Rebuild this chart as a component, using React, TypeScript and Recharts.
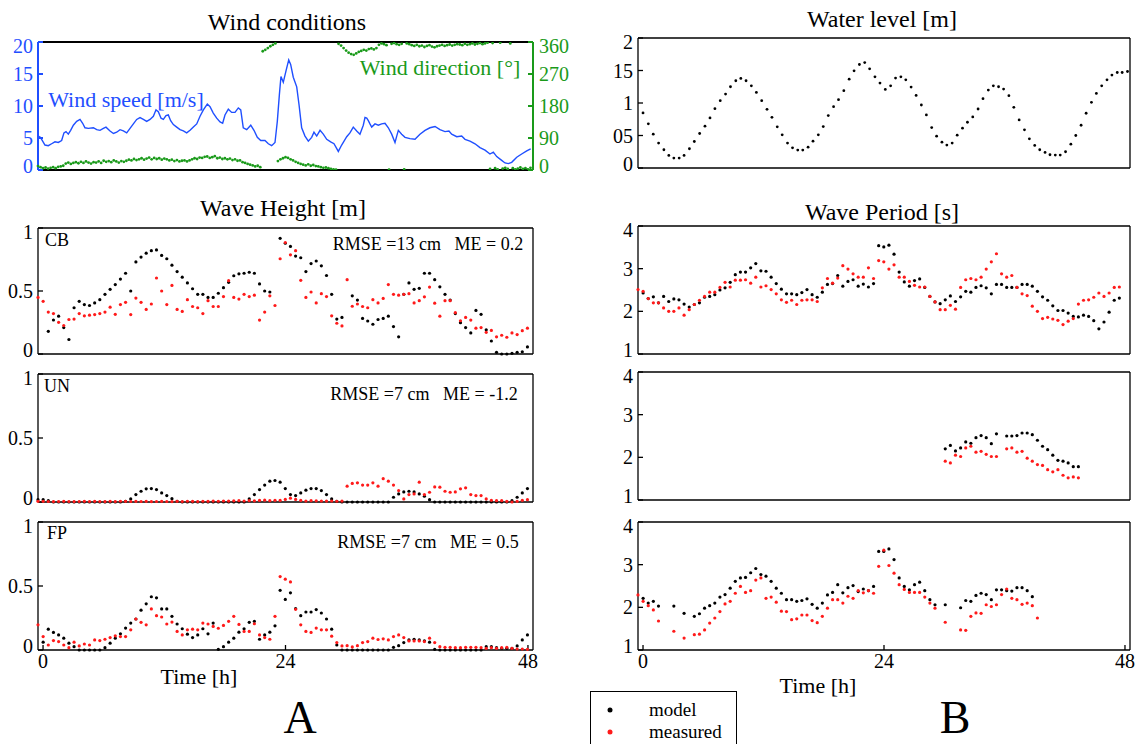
import React from 'react';
import { ComposedChart, Scatter, Line, XAxis, YAxis } from 'recharts';

const FONT = '"Liberation Serif", "Times New Roman", serif';
const RED = '#ff1a1a';
const BLUE = '#1f4fff';
const GREEN = '#1a9a1a';

// wave records: one sample every ~0.5 h starting at -0.5 h
const waveHours = Array.from({ length: 96 }, (_, i) => -0.5 + i * 0.51);
// wind direction record: one sample every 15 min
const windDirHours = Array.from({ length: 196 }, (_, i) => -0.5 + i * 0.25);
const gap = (n: number) => Array(n).fill(null);

const windSpeedHours = [
  -0.37, -0.14, 0.19, 0.52, 0.85, 1.18, 1.51, 1.84, 2.07, 2.27,
  2.5, 2.73, 3.0, 3.33, 3.66, 3.92, 4.15, 4.48, 4.98, 5.31,
  5.64, 5.97, 6.23, 6.63, 6.97, 7.29, 7.62, 7.95, 8.28, 8.61,
  8.94, 9.27, 9.6, 9.93, 10.26, 10.59, 10.92, 11.18, 11.41, 11.68,
  11.91, 12.17, 12.4, 12.63, 12.9, 13.23, 13.56, 13.89, 14.22, 14.55,
  14.88, 15.21, 15.54, 15.87, 16.26, 16.53, 16.85, 17.19, 17.52, 17.78,
  18.01, 18.34, 18.67, 19.0, 19.33, 19.57, 19.82, 20.16, 20.56, 20.88,
  21.21, 21.55, 21.97, 22.3, 22.63, 22.96, 23.19, 23.39, 23.55, 23.78,
  24.05, 24.32, 24.51, 24.77, 25.11, 25.34, 25.6, 25.93, 26.26, 26.59,
  26.82, 27.09, 27.42, 27.74, 28.08, 28.47, 28.8, 29.23, 29.56, 30.06,
  30.38, 30.71, 31.05, 31.37, 31.7, 31.87, 32.04, 32.2, 32.36, 32.53,
  32.86, 33.19, 33.52, 33.85, 34.18, 34.51, 34.84, 35.01, 35.17, 35.5,
  35.83, 36.32, 36.82, 37.31, 37.81, 38.3, 38.8, 39.29, 39.79, 40.18,
  40.45, 40.95, 41.44, 41.77, 42.26, 42.76, 43.25, 43.75, 44.24, 44.57,
  44.91, 45.4, 45.73, 46.06, 46.39, 46.89, 47.38, 47.88, 48.27,
];
const windSpeed = [
  5.3, 4.8, 3.9, 3.8, 4.1, 4.4, 4.3, 4.6, 5.8, 6.0,
  5.6, 6.2, 7.0, 7.6, 7.9, 7.3, 6.6, 6.5, 6.6, 6.3,
  6.2, 6.5, 6.7, 6.1, 5.7, 5.9, 6.3, 6.1, 5.8, 6.5,
  7.2, 7.9, 8.2, 7.9, 7.6, 7.9, 8.4, 9.4, 9.1, 8.1,
  7.9, 8.5, 8.6, 7.7, 7.1, 6.7, 6.3, 6.1, 5.8, 6.2,
  6.7, 7.2, 8.4, 9.4, 10.3, 9.9, 8.9, 8.1, 7.5, 7.3,
  8.6, 9.5, 9.0, 9.0, 9.7, 9.4, 6.6, 6.3, 7.0, 6.2,
  5.1, 4.6, 4.6, 4.1, 3.8, 4.3, 7.6, 11.7, 14.6, 13.7,
  15.5, 17.2, 16.5, 14.5, 13.0, 10.2, 6.6, 5.3, 4.5, 5.1,
  5.9, 5.3, 6.2, 5.6, 4.8, 4.4, 4.1, 2.9, 3.9, 5.2,
  5.8, 6.7, 6.1, 5.6, 7.0, 8.2, 8.1, 7.7, 7.2, 6.7,
  7.2, 7.0, 7.2, 7.3, 6.6, 5.6, 4.3, 5.3, 6.2, 5.6,
  5.1, 4.9, 4.8, 5.6, 6.2, 6.6, 6.8, 6.3, 6.0, 6.1,
  5.6, 5.2, 5.3, 4.8, 4.5, 4.1, 3.5, 3.1, 2.5, 2.8,
  2.1, 1.5, 1.1, 1.0, 1.2, 2.0, 2.5, 3.0, 3.3,
];
const windDir = [
  11, 8, 5, 7, 4,
  6, 8, 5, 9, 10, 12,
  18, 21, 17, 20,
  22, 19, 23, 20, 24, 21, 18, 22,
  21, 24, 20, 26, 23, 25, 22, 27, 24, 21, 25, 23,
  26, 29, 27, 31, 28, 30, 33, 29,
  32, 35, 30, 34, 31, 33, 29, 32,
  30, 27, 29, 25, 28, 24, 26, 27,
  24, 27, 30, 33, 31, 35, 34, 37,
  38, 34, 36, 39, 33, 35, 31, 33,
  30, 32, 28, 30, 26, 27, 22, 20,
  17, 15, 13, 10, 12, 8,
  334, 338, 343, 348, 352, 356,
  25, 30, 33, 36, 34, 30, 27, 23, 20, 17,
  15, 13, 16, 12, 14, 11, 10, 8,
  6, 7, 5, 3, 2, 1,
  355, 350, 343, 336, 330, 326, 324, 328,
  332, 335, 338, 336, 340, 342, 339, 343, 352, 356, 354, 351, 1, 355, 357, 354, 352, 355, 2, 356,
  354, 351, 349, 352, 348, 350, 346, 349, 351, 347, 345, 348, 350, 352, 349, 351, 353, 350, 352, 354,
  353, 351, 355, 352, 354, 356, 353, 355, 357, 354, 356, 358,
  3, 357, 5, 2, 358, 4, 6, 3, 356, 5, 2, 4, 7, 3, 5, 2, 6,
];

const waterHours = [
  0, 0.53, 1.02, 1.55, 2.08, 2.57, 3.07, 3.6, 4.09, 4.62, 5.11, 5.64, 6.17, 6.67, 7.16, 7.69, 8.22, 8.71, 9.24,
  9.74, 10.26, 10.79, 11.29, 11.82, 12.35, 12.84, 13.37, 13.86, 14.39, 14.89, 15.41, 15.91, 16.44, 16.93, 17.46,
  17.95, 18.45, 18.98, 19.47, 20.0, 20.53, 21.02, 21.55, 22.08, 22.57, 23.1, 23.6, 24.13, 24.66, 25.15, 25.68,
  26.17, 26.7, 27.2, 27.72, 28.22, 28.75, 29.24, 29.77, 30.26, 30.79, 31.29, 31.82, 32.31, 32.84, 33.37, 33.86,
  34.39, 34.89, 35.41, 35.91, 36.44, 36.93, 37.46, 37.99, 38.48, 39.01, 39.51, 40.04, 40.53, 41.06, 41.55,
  42.08, 42.61, 43.1, 43.63, 44.13, 44.66, 45.15, 45.68, 46.21, 46.7, 47.23, 47.72, 48.25,
];
const waterLevel = [
  0.847, 0.679, 0.52, 0.383, 0.281, 0.194, 0.153, 0.153, 0.194, 0.296, 0.408, 0.531, 0.643, 0.77, 0.913, 1.036,
  1.138, 1.25, 1.342, 1.378, 1.342, 1.265, 1.163, 1.036, 0.903, 0.78, 0.633, 0.51, 0.383, 0.311, 0.276, 0.276,
  0.321, 0.413, 0.51, 0.638, 0.806, 0.944, 1.051, 1.189, 1.367, 1.495, 1.592, 1.622, 1.526, 1.403, 1.306, 1.209,
  1.265, 1.383, 1.403, 1.357, 1.245, 1.117, 0.969, 0.816, 0.622, 0.49, 0.398, 0.352, 0.383, 0.505, 0.612, 0.704,
  0.786, 0.908, 1.066, 1.199, 1.265, 1.25, 1.214, 1.112, 0.934, 0.74, 0.587, 0.449, 0.347, 0.281, 0.24, 0.204,
  0.199, 0.199, 0.25, 0.367, 0.5, 0.658, 0.842, 1.01, 1.148, 1.265, 1.357, 1.429, 1.469, 1.469, 1.485,
];

// wave height [m]
const cbModel = [
  null, null, 0.18, 0.27, 0.3, 0.21, 0.115, 0.367, 0.418, 0.392,
  0.385, 0.405, 0.431, 0.474, 0.513, 0.551, 0.595, 0.641, 0.5, 0.731,
  0.769, 0.8, 0.82, 0.826, 0.782, 0.756, 0.705, 0.654, 0.61, 0.564,
  0.518, 0.474, 0.474, 0.449, 0.449, 0.482, 0.526, 0.569, 0.621, 0.636,
  0.641, 0.649, 0.641, 0.556, 0.5, 0.492, null, 0.918, 0.879, 0.854,
  0.777, 0.764, 0.654, 0.718, 0.738, 0.7, 0.623, 0.474, 0.277, 0.29,
  null, 0.462, 0.428, 0.282, 0.262, 0.236, 0.274, 0.282, 0.3, 0.218,
  0.136, 0.474, 0.564, 0.513, 0.521, 0.641, 0.641, 0.59, 0.533, 0.474,
  0.428, 0.321, 0.249, 0.21, 0.167, 0.346, 0.315, 0.192, 0.103, 0.013,
  0, 0, 0.005, 0.013, 0.018, 0.056,
];
const cbMeasured = [
  0.449, 0.418, 0.333, 0.321, 0.251, 0.226, 0.274, 0.277, 0.321, 0.303,
  0.308, 0.313, 0.321, 0.333, 0.372, 0.315, 0.392, 0.41, 0.313, 0.444,
  0.41, 0.354, 0.397, 0.603, 0.5, 0.392, 0.544, 0.354, 0.338, 0.431,
  0.377, 0.367, 0.321, 0.423, 0.377, 0.377, 0.456, 0.582, 0.449, 0.436,
  0.474, 0.456, 0.467, 0.269, 0.333, 0.462, 0.385, 0.756, 0.885, 0.787,
  0.82, 0.585, 0.449, 0.492, 0.405, 0.479, 0.456, 0.303, 0.244, 0.223,
  0.59, 0.379, 0.397, 0.377, 0.367, 0.431, 0.405, 0.441, 0.551, 0.474,
  0.467, 0.474, 0.479, 0.405, 0.423, 0.454, 0.531, 0.403, 0.3, 0.423,
  0.423, 0.328, 0.264, 0.29, 0.269, 0.205, 0.21, 0.172, 0.187, 0.136,
  0.149, 0.133, 0.167, 0.154, 0.185, 0.205,
];
const unModel = [
  0.018, 0.018, 0.01, 0, 0, 0, 0, 0, 0, 0,
  0, 0, 0, 0, 0, 0, 0, 0.005, 0.024, 0.058,
  0.084, 0.103, 0.105, 0.097, 0.071, 0.05, 0.026, 0.005, 0, 0,
  0, 0, 0, 0, 0, 0, 0, 0, 0, 0,
  0, 0.024, 0.058, 0.097, 0.132, 0.163, 0.168, 0.155, 0.105, 0.058,
  0.05, 0.071, 0.092, 0.105, 0.105, 0.089, 0.058, 0.024, 0.005, 0,
  0, 0, 0, 0, 0, 0, 0, 0, 0, 0.037,
  0.063, 0.079, 0.084, 0.079, 0.063, 0.045, 0.018, 0, 0, 0,
  0, 0, 0, 0, 0, 0, 0, 0, 0, 0,
  0, 0, 0.01, 0.037, 0.071, 0.105,
];
const unMeasured = [
  0.005, 0.005, 0.004, 0.003, 0.004, 0.005, 0.004, 0.003, 0.004, 0.005,
  0.004, 0.005, 0.004, 0.003, 0.005, 0.004, 0.006, 0.005, 0.004, 0.005,
  0.004, 0.005, 0.003, 0.004, 0.005, 0.004, 0.003, 0.005, 0.004, 0.006,
  0.005, 0.004, 0.006, 0.005, 0.007, 0.006, 0.008, 0.007, 0.009, 0.01,
  0.008, 0.01, 0.009, 0.012, 0.014, 0.01, 0.013, 0.012, 0.02, 0.03,
  0.02, 0.012, 0.008, 0.01, 0.009, 0.008, 0.007, 0.008, 0.006, 0.007,
  0.124, 0.145, 0.15, 0.132, 0.132, 0.15, 0.124, 0.182, 0.163, 0.132,
  0.089, 0.024, 0.058, 0.063, 0.155, 0.058, 0.076, 0.118, 0.116, 0.084,
  0.076, 0.079, 0.103, 0.111, 0.058, 0.05, 0.05, 0.024, 0.013, 0.01,
  0.01, 0.005, 0, 0.005, 0.013, 0.018,
];
const fpModel = [
  null, 0.061, 0.163, 0.137, 0.118, 0.092, 0.053, 0.026, 0, 0,
  0, 0, 0, 0.018, 0.053, 0.092, 0.126, 0.171, 0.21, 0.242,
  0.311, 0.361, 0.416, 0.408, 0.321, 0.321, 0.263, 0.203, 0.166, 0.124,
  0.097, 0.118, 0.166, 0.126, 0.21, 0.005, 0.026, 0.061, 0.092, 0.139,
  0.166, 0.216, 0.224, 0.084, 0.118, 0.139, 0.189, 0.466, 0.395, 0.447,
  0.324, 0.268, 0.297, 0.297, 0.316, 0.289, 0.242, 0.163, 0.039, 0,
  0, 0, 0, 0, 0, 0, 0, 0, 0, 0.021,
  0.034, 0.058, 0.079, 0.084, 0.079, 0.071, 0.061, 0.005, 0, 0,
  0, 0, 0, 0, 0, 0, 0, 0.026, 0.026, 0.018,
  0.013, 0.013, 0.013, 0.032, 0.079, 0.118,
];
const fpMeasured = [
  0.197, 0.105, 0.039, 0.074, 0.066, 0.039, 0.018, 0.061, 0.032, 0.047,
  0.039, 0.079, 0.074, 0.084, 0.097, 0.111, 0.105, 0.105, 0.158, 0.242,
  0.216, 0.197, 0.321, 0.268, 0.258, 0.203, 0.218, 0.145, 0.118, 0.158,
  0.163, 0.158, 0.21, 0.203, 0.184, 0.17, 0.192, 0.224, 0.263, 0.2,
  0.145, 0.145, 0.205, 0.118, 0.097, 0.084, 0.263, 0.574, 0.553, 0.532,
  0.318, 0.197, 0.145, 0.137, 0.171, 0.158, 0.158, 0.108, 0.058, 0.032,
  0.034, 0.024, 0.034, 0.058, 0.066, 0.092, 0.082, 0.087, 0.079, 0.105,
  0.118, 0.097, 0.071, 0.071, 0.071, 0.066, 0.092, 0.058, 0.026, 0.021,
  0.021, 0.018, 0.018, 0.021, 0.021, 0.021, 0.018, 0.013, 0.018, 0.013,
  0.018, 0.021, 0.013, 0.008, 0.008, 0.005,
];

// wave period [s]
const wp1Model = [
  null, 2.43, 2.3, 2.34, 2.2, 2.35, 2.23, 2.29, 2.27, 2.17,
  2.1, 2.16, 2.2, 2.33, 2.35, 2.39, 2.5, 2.55, 2.68, 2.86,
  2.92, 2.92, 3.02, 3.12, 2.95, 2.94, 2.8, 2.65, 2.52, 2.41,
  2.41, 2.39, 2.44, 2.51, 2.39, 2.33, 2.45, 2.63, 2.65, 2.84,
  2.59, 2.7, 2.74, 2.59, 2.64, 2.57, 2.65, 3.54, 3.51, 3.55,
  3.34, 2.92, 2.69, 2.59, 2.72, 2.76, 2.56, 2.35, 2.22, 2.18,
  2.27, 2.36, 2.23, 2.34, 2.47, 2.45, 2.56, 2.6, 2.55, 2.41,
  2.63, 2.63, 2.56, 2.56, 2.56, 2.63, 2.63, 2.59, 2.47, 2.34,
  2.26, 2.13, 2.02, 2.02, 1.96, 1.88, 1.87, 1.91, 1.88, 1.78,
  1.59, 1.75, 1.98, 2.26, 2.31, null,
];
const wp1Measured = [
  2.51, 2.47, 2.3, 2.2, 2.2, 2.08, 2.0, 2.0, 2.08, 1.91,
  2.04, 2.16, 2.26, 2.35, 2.45, 2.45, 2.56, 2.68, 2.57, 2.73,
  2.73, 2.74, 2.66, 2.8, 2.57, 2.6, 2.51, 2.41, 2.27, 2.21,
  2.26, 2.16, 2.26, 2.27, 2.27, 2.23, 2.55, 2.77, 2.66, 2.78,
  3.07, 2.99, 2.88, 2.8, 2.8, 3.02, 2.77, 3.19, 3.16, 2.99,
  3.09, 2.8, 2.8, 2.7, 2.61, 2.57, 2.57, 2.35, 2.22, 2.04,
  2.04, 2.14, 2.05, 2.56, 2.74, 2.77, 2.74, 2.8, 2.99, 3.16,
  3.35, 2.88, 2.8, 2.84, 2.56, 2.41, 2.37, 2.12, 2.0, 1.83,
  1.86, 1.82, 1.79, 1.69, 1.77, 1.83, 2.17, 2.26, 2.27, 2.33,
  2.43, 2.35, 2.43, 2.56, 2.57, null,
];
const wp2Model = [
  ...gap(60),
  2.2, 2.28, 2.15, 2.22, 2.36, 2.33, 2.46, 2.51, 2.46, 2.32,
  2.55, null, 2.5, 2.5, 2.51, 2.57, 2.57, 2.53, 2.4, 2.26,
  2.18, 2.05, 1.93, 1.91, 1.87, 1.78, 1.78,
];
const wp2Measured = [
  ...gap(60),
  1.91, 1.87, 2.05, 2.02, 2.22, 2.26, 2.12, 2.14, 2.07, 2.02,
  2.02, null, 2.2, 2.22, 2.12, 2.14, 1.98, 1.91, 1.83, 1.81,
  1.71, 1.66, 1.71, 1.58, 1.52, 1.54, 1.52,
];
const wp3Model = [
  null, 2.21, 2.1, 2.14, 2.03, null, null, 2.03, null, 1.86,
  null, 1.79, 1.85, 1.98, 2.04, 2.1, 2.24, 2.3, 2.45, 2.61,
  2.69, 2.7, 2.81, 2.91, 2.77, 2.73, 2.61, 2.45, 2.33, 2.18,
  2.18, 2.14, 2.16, 2.2, 2.07, 1.98, 2.1, 2.29, 2.35, 2.53,
  2.34, 2.46, 2.51, 2.37, 2.43, 2.39, 2.49, 3.31, 3.31, 3.37,
  3.12, 2.69, 2.49, 2.41, 2.53, 2.59, 2.39, 2.18, 2.06, null,
  2.06, null, null, 1.99, 2.16, 2.14, 2.28, 2.33, 2.3, 2.18,
  2.41, 2.41, 2.39, 2.38, 2.46, 2.46, 2.39, 2.25,
];
const wp3Measured = [
  2.29, 2.14, 2.04, 1.94, 1.68, null, null, 1.44, null, 1.28,
  null, 1.36, 1.37, 1.47, 1.63, 1.75, 1.9, 2.08, 2.14, 2.33,
  2.49, 2.35, 2.39, 2.64, 2.69, 2.21, 2.24, 2.12, 1.91, 1.9,
  1.71, 1.73, 1.82, 1.82, 1.69, 1.64, 1.79, 1.98, 2.18, 2.18,
  2.1, 2.26, 2.21, 2.39, 2.34, 2.39, 2.33, 2.96, 3.34, 2.98,
  2.8, 2.53, 2.42, 2.35, 2.35, 2.35, 2.24, 2.1, 1.98, null,
  1.65, null, null, 1.47, 1.46, 1.79, 1.87, 1.86, 2.06, 2.02,
  2.06, 2.3, 2.43, 2.21, 2.18, 2.07, 2.1, 2.04, 1.75,
];

const xTicks = [0, 24, 48];
const heightTicks = [0, 0.5, 1];
const periodTicks = [1, 2, 3, 4];
const waterTicks = [0, 0.5, 1, 1.5, 2];
const waterTickText: Record<string, string> = { '0': '0', '0.5': '05', '1': '1', '1.5': '15', '2': '2' };
const speedTicks = [0, 5, 10, 15, 20];
const dirTicks = [0, 90, 180, 270, 360];

type Pt = { t: number; v: number };
const toPts = (vals: (number | null)[], hours: number[] = waveHours): Pt[] =>
  vals.flatMap((v, i) => (v == null || hours[i] == null ? [] : [{ t: hours[i], v }]));

const dot = (color: string, r: number) => (props: any) =>
  <circle cx={props.cx} cy={props.cy} r={r} fill={color} />;

const tickStyle = { fontFamily: FONT, fontSize: 20 };

// serif tick labels; the end labels sit a little inside the frame, as in the original
const yTick = (color: string, domain: [number, number], fmt?: (v: number) => string) => (props: any) => {
  const v = props.payload.value;
  const shift = v === domain[1] ? 4 : v === domain[0] ? -4 : 0;
  return (
    <text x={props.x} y={props.y + shift} dy="0.35em" textAnchor={props.textAnchor}
      fill={color} style={tickStyle}>{fmt ? fmt(v) : String(v)}</text>
  );
};
const xTick = (props: any) => (
  <text x={props.x} y={props.y} dy="0.75em" textAnchor="middle" fill="#000"
    style={tickStyle}>{String(props.payload.value)}</text>
);

interface DotSeries { pts: Pt[]; color: string; r?: number; axis?: 'l' | 'r' }
interface PanelProps {
  x: number; y: number; w: number; h: number;
  yDomain: [number, number]; yTicks: number[]; yFmt?: (v: number) => string;
  dots: DotSeries[];
  line?: { pts: Pt[]; color: string };
  xLabels?: boolean;
  leftColor?: string; rightColor?: string;
  rightDomain?: [number, number]; rightTicks?: number[];
  axisW?: number; bottomW?: number;
}

function Panel(p: PanelProps) {
  const padL = 50;
  const padR = p.rightTicks ? 50 : 14;
  const padT = 14;
  const padB = p.xLabels ? 34 : 14;
  const lc = p.leftColor ?? '#000';
  const rc = p.rightColor ?? '#000';
  const aw = p.axisW ?? 1.3;
  const rDomain = p.rightDomain ?? p.yDomain;
  return (
    <div style={{ position: 'absolute', left: p.x - padL, top: p.y - padT }}>
      <ComposedChart width={padL + p.w + padR} height={padT + p.h + padB}
        margin={{ top: 0, right: 0, bottom: 0, left: 0 }} style={{ fontFamily: FONT }}>
        <XAxis xAxisId="b" type="number" dataKey="t" domain={[-0.5, 48.5]} ticks={xTicks}
          height={padB} stroke="#000" strokeWidth={p.bottomW ?? aw} tickSize={-5} tickMargin={8}
          tick={p.xLabels ? xTick : false} />
        <XAxis xAxisId="t" orientation="top" type="number" dataKey="t" domain={[-0.5, 48.5]}
          ticks={xTicks} allowDataOverflow height={padT} stroke="#000" strokeWidth={aw}
          tickSize={-5} tick={false} />
        <YAxis yAxisId="l" type="number" domain={p.yDomain} ticks={p.yTicks} width={padL}
          stroke={lc} strokeWidth={aw} tickSize={-5} tickMargin={10} interval={0}
          tick={yTick(lc, p.yDomain, p.yFmt)} />
        <YAxis yAxisId="r" orientation="right" type="number" domain={rDomain}
          ticks={p.rightTicks ?? p.yTicks} allowDataOverflow width={padR} stroke={rc} strokeWidth={aw}
          tickSize={-5} tickMargin={11} interval={0}
          tick={p.rightTicks ? yTick(rc, rDomain) : false} />
        {p.line && (
          <Line xAxisId="b" yAxisId="l" data={p.line.pts} dataKey="v" type="linear" dot={false}
            stroke={p.line.color} strokeWidth={1.4} isAnimationActive={false} />
        )}
        {p.dots.map((s, k) => (
          <Scatter key={k} xAxisId="b" yAxisId={s.axis ?? 'l'} data={s.pts} dataKey="v"
            shape={dot(s.color, s.r ?? 1.6)} isAnimationActive={false} />
        ))}
      </ComposedChart>
    </div>
  );
}

function Txt({ cx, cy, size, color = '#000', children }:
  { cx: number; cy: number; size: number; color?: string; children: React.ReactNode }) {
  return (
    <div style={{
      position: 'absolute', left: cx, top: cy, transform: 'translate(-50%, -50%)',
      fontSize: size, lineHeight: 1, whiteSpace: 'pre', color,
    }}>{children}</div>
  );
}

const LX = 38, LW = 495, RX = 638, RW = 492;

export default function App() {
  const windSpeedPts = windSpeedHours.map((t, i) => ({ t, v: windSpeed[i] }));
  const windDirPts = toPts(windDir, windDirHours);
  const waterPts = toPts(waterLevel, waterHours);
  return (
    <div style={{
      position: 'absolute', left: 0, top: 0, width: 1135, height: 744, background: '#fff',
      overflow: 'hidden', fontFamily: FONT, color: '#000',
    }}>
      <Panel x={LX} y={42} w={LW} h={128} yDomain={[0, 20]} yTicks={speedTicks}
        leftColor={BLUE} rightColor={GREEN} rightDomain={[0, 360]} rightTicks={dirTicks}
        axisW={2} bottomW={2}
        line={{ pts: windSpeedPts, color: BLUE }}
        dots={[{ pts: windDirPts, color: GREEN, r: 1.4, axis: 'r' }]} />
      <Panel x={LX} y={228} w={LW} h={126} yDomain={[0, 1]} yTicks={heightTicks}
        dots={[{ pts: toPts(cbModel), color: '#000' }, { pts: toPts(cbMeasured), color: RED }]} />
      <Panel x={LX} y={374} w={LW} h={128} yDomain={[0, 1]} yTicks={heightTicks}
        dots={[{ pts: toPts(unModel), color: '#000' }, { pts: toPts(unMeasured), color: RED }]} />
      <Panel x={LX} y={522} w={LW} h={128} yDomain={[0, 1]} yTicks={heightTicks} xLabels
        dots={[{ pts: toPts(fpModel), color: '#000' }, { pts: toPts(fpMeasured), color: RED }]} />

      <Panel x={RX} y={38} w={RW} h={130} yDomain={[0, 2]} yTicks={waterTicks}
        yFmt={(v) => waterTickText[String(v)] ?? String(v)}
        dots={[{ pts: waterPts, color: '#000', r: 1.4 }]} />
      <Panel x={RX} y={226} w={RW} h={128} yDomain={[1, 4]} yTicks={periodTicks}
        dots={[{ pts: toPts(wp1Model), color: '#000' }, { pts: toPts(wp1Measured), color: RED }]} />
      <Panel x={RX} y={372} w={RW} h={128} yDomain={[1, 4]} yTicks={periodTicks}
        dots={[{ pts: toPts(wp2Model), color: '#000' }, { pts: toPts(wp2Measured), color: RED }]} />
      <Panel x={RX} y={522} w={RW} h={128} yDomain={[1, 4]} yTicks={periodTicks} xLabels
        dots={[{ pts: toPts(wp3Model), color: '#000' }, { pts: toPts(wp3Measured), color: RED }]} />

      <Txt cx={287} cy={22} size={24}>Wind conditions</Txt>
      <Txt cx={882} cy={19} size={24}>Water level [m]</Txt>
      <Txt cx={283} cy={208} size={24}>Wave Height [m]</Txt>
      <Txt cx={882} cy={212} size={24}>Wave Period [s]</Txt>
      <Txt cx={126} cy={100} size={22} color={BLUE}>Wind speed [m/s]</Txt>
      <Txt cx={440} cy={68} size={22} color={GREEN}>Wind direction [°]</Txt>

      <Txt cx={57} cy={240} size={18}>CB</Txt>
      <Txt cx={57} cy={386} size={18}>UN</Txt>
      <Txt cx={57} cy={533} size={18}>FP</Txt>
      <Txt cx={428} cy={244} size={18}>{'RMSE =13 cm   ME = 0.2'}</Txt>
      <Txt cx={424} cy={394} size={18}>{'RMSE =7 cm   ME = -1.2'}</Txt>
      <Txt cx={428} cy={542} size={18}>{'RMSE =7 cm   ME = 0.5'}</Txt>

      <Txt cx={199} cy={677} size={22}>Time [h]</Txt>
      <Txt cx={818} cy={686} size={22}>Time [h]</Txt>
      <Txt cx={300} cy={718} size={46}>A</Txt>
      <Txt cx={955} cy={718} size={46}>B</Txt>

      <div style={{
        position: 'absolute', left: 590, top: 691, width: 145, height: 70,
        border: '1px solid #000', background: '#fff',
      }}>
        <svg width={40} height={50} style={{ position: 'absolute', left: 0, top: 0 }}>
          <circle cx={19} cy={18} r={2.5} fill="#000" />
          <circle cx={19} cy={40} r={2.5} fill={RED} />
        </svg>
        <div style={{ position: 'absolute', left: 58, top: 8, fontSize: 19, lineHeight: 1 }}>model</div>
        <div style={{ position: 'absolute', left: 58, top: 30, fontSize: 19, lineHeight: 1 }}>measured</div>
      </div>
    </div>
  );
}
